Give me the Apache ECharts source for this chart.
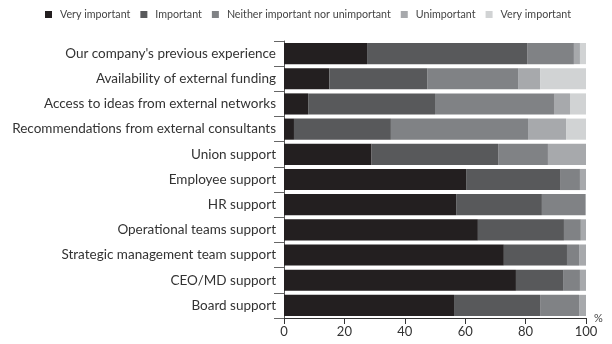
<!DOCTYPE html>
<html>
<head>
<meta charset="utf-8">
<script src="https://cdn.jsdelivr.net/npm/echarts@6/dist/echarts.min.js"></script>
<style>
  html, body { margin: 0; padding: 0; background: #fff; }
  #chart { width: 612px; height: 344px; }
</style>
</head>
<body>
<div id="chart"></div>
<script>
// Factors, listed top to bottom
const categories = [
  "Our company's previous experience",
  "Availability of external funding",
  "Access to ideas from external networks",
  "Recommendations from external consultants",
  "Union support",
  "Employee support",
  "HR support",
  "Operational teams support",
  "Strategic management team support",
  "CEO/MD support",
  "Board support"
];

// Share of respondents (%) per rating
const veryImportant   = [27.5, 15.0,  8.0,  3.3, 29.0, 60.3, 57.0, 64.2, 72.8, 76.8, 56.3];
const important       = [53.0, 32.4, 42.0, 32.1, 41.9, 31.1, 28.4, 28.5, 20.9, 15.6, 28.5];
const neither         = [15.5, 30.1, 39.4, 45.4, 16.5,  6.6, 14.3,  5.6,  4.0,  5.6, 12.9];
const unimportant     = [ 2.0,  7.3,  5.3, 12.6, 12.6,  2.0,  0.3,  2.0,  2.3,  2.0,  2.3];
const veryUnimportant = [ 2.0, 15.2,  5.3,  6.6,  0.3,  0.0,  0.0,  0.0,  0.0,  0.0,  0.0];

const xTicks = [0, 20, 40, 60, 80, 100];

const ratingSeries = [
  { key: 'vi', label: 'Very important', data: veryImportant,   color: '#231f20' },
  { key: 'im', label: 'Important',      data: important,       color: '#58595b' },
  { key: 'ne', label: 'Neither important nor unimportant', data: neither, color: '#808285' },
  { key: 'un', label: 'Unimportant',    data: unimportant,     color: '#a7a9ac' },
  { key: 'vu', label: 'Very important', data: veryUnimportant, color: '#d1d3d4' }
];
const labelByKey = {};
ratingSeries.forEach(s => { labelByKey[s.key] = s.label; });

const font = 'Lato';
const chart = echarts.init(document.getElementById('chart'), null, { renderer: 'canvas' });

chart.setOption({
  animation: false,
  textStyle: { fontFamily: font },
  legend: {
    top: 4,
    left: 40,
    itemWidth: 7,
    itemHeight: 7,
    itemGap: 10,
    icon: 'rect',
    textStyle: { fontFamily: font, fontSize: 10.7, color: '#444', padding: [0, 0, 0, 3] },
    formatter: name => labelByKey[name]
  },
  grid: { left: 284, right: 26, top: 41, bottom: 26, containLabel: false },
  xAxis: {
    type: 'value',
    min: xTicks[0],
    max: xTicks[xTicks.length - 1],
    interval: 20,
    splitLine: { show: false },
    axisLine: { show: true, lineStyle: { color: '#333', width: 1 } },
    axisTick: { show: true, length: 6, lineStyle: { color: '#333' } },
    axisLabel: { fontFamily: font, fontSize: 13, color: '#333', margin: 7 },
    name: '%',
    nameLocation: 'end',
    nameGap: 8,
    nameTextStyle: { fontFamily: font, fontSize: 11, color: '#444', verticalAlign: 'bottom', padding: [0, 0, -6, 0] }
  },
  yAxis: {
    type: 'category',
    data: categories,
    inverse: true,
    axisLine: { show: true, lineStyle: { color: '#555', width: 1 } },
    axisTick: { show: true, length: 10, lineStyle: { color: '#666' } },
    axisLabel: { fontFamily: font, fontSize: 13.5, color: '#333', margin: 8 }
  },
  series: ratingSeries.map(s => ({
    name: s.key,
    type: 'bar',
    stack: 'total',
    barWidth: '84%',
    data: s.data,
    itemStyle: { color: s.color },
    emphasis: { disabled: true }
  }))
});
</script>
</body>
</html>
